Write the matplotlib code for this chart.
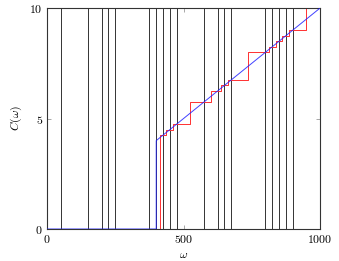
import matplotlib
matplotlib.use("Agg")
import matplotlib.pyplot as plt
import numpy as np

plt.rcParams['mathtext.fontset'] = 'cm'
plt.rcParams['font.family'] = 'serif'
plt.rcParams['font.serif'] = ['DejaVu Serif']

# vertical marker frequencies
freqs = [50, 150, 200, 225, 250, 375, 400, 425, 450, 475,
         575, 625, 650, 675, 800, 825, 850, 875, 900, 1000]

# red staircase: edges and levels
red_edges = [0, 412.5, 437.5, 462.5, 525, 600, 637.5, 662.5, 737.5,
             812.5, 837.5, 862.5, 887.5, 950, 1000]
red_levels = [0, 4.25, 4.5, 4.75, 5.75, 6.25, 6.5, 6.75, 8.0,
              8.25, 8.5, 8.75, 9.0, 10.0]

# blue curve
blue_x = [0, 400, 400, 1000]
blue_y = [0, 0, 4, 10]

fig = plt.figure(figsize=(3.39, 2.61), dpi=100)
ax = fig.add_axes([0.1387, 0.1226, 0.944 - 0.1387, 0.969 - 0.1226])

for f in freqs:
    ax.axvline(f, color='#333333', lw=0.7, zorder=1)

rx = np.repeat(red_edges, 2)[1:-1]
ry = np.repeat(red_levels, 2)
ax.plot(rx, ry, color='#ff3030', lw=0.7, zorder=2)
ax.plot(blue_x, blue_y, color='#2020ff', lw=0.7, alpha=0.85, zorder=3)

ax.set_xlim(0, 1000)
ax.set_ylim(0, 10)
ax.set_xticks([0, 500, 1000])
ax.set_xticklabels(['$0$', '$500$', '$1000$'])
ax.set_yticks([0, 5, 10])
ax.set_yticklabels(['$0$', '$5$', '$10$'])
ax.tick_params(direction='in', top=True, right=True, length=3, width=0.6,
               color='#999999', labelsize=8.5, pad=3)
for s in ax.spines.values():
    s.set_linewidth(0.8)
    s.set_color('#333333')
ax.set_xlabel(r'$\omega$', fontsize=8.5, labelpad=1)
ax.set_ylabel(r'$C(\omega)$', fontsize=8.5, labelpad=4)

fig.savefig('out.png', dpi=100)
